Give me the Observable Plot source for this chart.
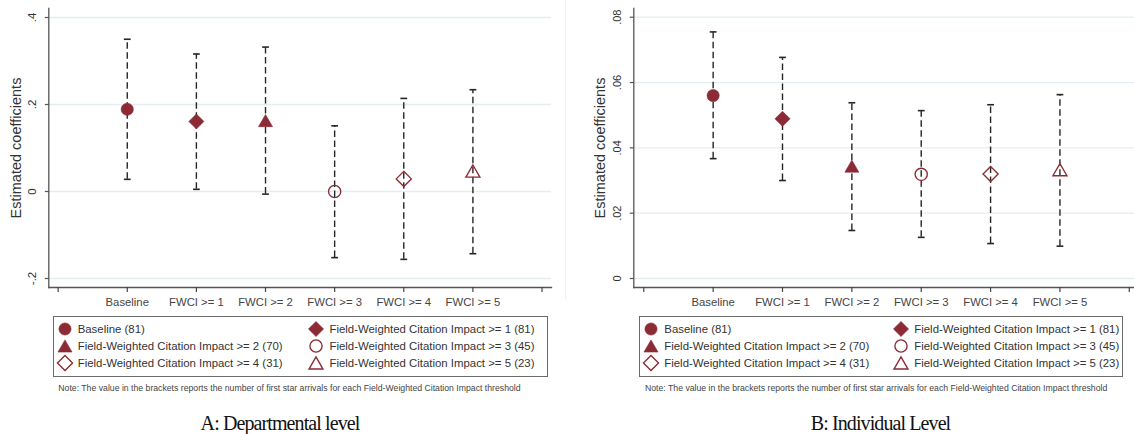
<!DOCTYPE html>
<html>
<head>
<meta charset="utf-8">
<script src="https://cdn.jsdelivr.net/npm/d3@7"></script>
<script src="https://cdn.jsdelivr.net/npm/@observablehq/plot@0.6"></script>
<style>
  body { margin: 0; background: #fff; }
  #wrap { position: relative; width: 1134px; height: 434px; overflow: hidden; font-family: "Liberation Sans", Arial, sans-serif; background: #fff; }
  #wrap svg.plotsvg { position: absolute; top: 0; }
  .lbox { position: absolute; border: 1.3px solid #6a6a6a; box-sizing: border-box; }
  .litem { position: absolute; font-size: 11.4px; color: #333; white-space: nowrap; line-height: 14px; transform: translateY(-50%); }
  .lmark { position: absolute; overflow: visible; }
  .note { position: absolute; font-size: 8.7px; color: #444; white-space: nowrap; line-height: 10px; transform: translateY(-50%); }
  .cap { position: absolute; font-family: "Liberation Serif", "Times New Roman", serif; font-size: 20px; letter-spacing: -0.9px; color: #111; white-space: nowrap; line-height: 24px; transform: translate(-50%, -50%); }
  .sep { position: absolute; left: 565px; top: 0; width: 1px; height: 300px; background: #f1f1f1; }
</style>
</head>
<body>
<div id="wrap"></div>
<script>
// ---------- data ----------
const categories = ["Baseline", "FWCI >= 1", "FWCI >= 2", "FWCI >= 3", "FWCI >= 4", "FWCI >= 5"];
const xTickLabels = ["", "Baseline", "FWCI >= 1", "FWCI >= 2", "FWCI >= 3", "FWCI >= 4", "FWCI >= 5", ""];
const legendLabels = [
  "Baseline (81)",
  "Field-Weighted Citation Impact >= 1 (81)",
  "Field-Weighted Citation Impact >= 2 (70)",
  "Field-Weighted Citation Impact >= 3 (45)",
  "Field-Weighted Citation Impact >= 4 (31)",
  "Field-Weighted Citation Impact >= 5 (23)"
];

// Panel A: Departmental level
const deptEstimate = [0.189, 0.161, 0.163, 0.000, 0.029, 0.047];
const deptLower    = [0.028, 0.005, -0.006, -0.152, -0.156, -0.143];
const deptUpper    = [0.350, 0.316, 0.332, 0.151, 0.214, 0.234];
const deptYTicks   = [-0.2, 0, 0.2, 0.4];
const deptYLabels  = ["-.2", "0", ".2", ".4"];

// Panel B: Individual level
const indivEstimate = [0.0560, 0.0489, 0.0344, 0.0319, 0.0320, 0.0333];
const indivLower    = [0.0367, 0.0300, 0.0147, 0.0126, 0.0107, 0.0099];
const indivUpper    = [0.0755, 0.0677, 0.0538, 0.0514, 0.0532, 0.0563];
const indivYTicks   = [0, 0.02, 0.04, 0.06, 0.08];
const indivYLabels  = ["0", ".02", ".04", ".06", ".08"];

const note = "Note: The value in the brackets reports the number of first star arrivals for each Field-Weighted Citation Impact threshold";
const captions = ["A: Departmental level", "B: Individual Level"];
const yTitle = "Estimated coefficients";

// ---------- styles ----------
const maroon = "#8c2a35";
const shapes = ["circle", "diamond2", "triangle", "circle", "diamond2", "triangle"];
const filled = [true, true, true, false, false, false];
const radius = {circle: 6.1, diamond2: 6.8, triangle: 5.2};
const font = '"Liberation Sans", Arial, sans-serif';

const capSym = { draw(ctx) { ctx.moveTo(-3.4, 0); ctx.lineTo(3.4, 0); } };
const yTickSym = { draw(ctx) { ctx.moveTo(0, 0); ctx.lineTo(-4, 0); } };

function panel(est, lo, hi, yDomain, yTicks, yLabels, o) {
  const rows = categories.map((c, i) => ({i: i + 1, cat: c, est: est[i], lo: lo[i], hi: hi[i], shape: shapes[i], filled: filled[i]}));
  const markerMarks = rows.map(r => Plot.dot([r], {
    x: "i", y: "est", symbol: r.shape, r: radius[r.shape],
    fill: r.filled ? maroon : "none", stroke: maroon,
    strokeWidth: r.filled ? 0.6 : 1.35,
    dy: r.shape === "triangle" ? 2 : 0
  }));
  const svg = Plot.plot({
    width: o.width, height: 312,
    marginLeft: o.mL, marginRight: o.mR, marginTop: 8, marginBottom: 25,
    x: {domain: o.xDomain, axis: null, label: null},
    y: {domain: yDomain, axis: null, label: null},
    style: {fontFamily: font, background: "transparent", overflow: "visible"},
    marks: [
      Plot.gridY(yTicks, {stroke: "#e4eef0", strokeOpacity: 1, strokeWidth: 1.3}),
      Plot.ruleX(rows, {x: "i", y1: "lo", y2: "hi", stroke: "#262626", strokeWidth: 1.4, strokeDasharray: "6.5,3.5"}),
      Plot.dot(rows, {x: "i", y: "hi", symbol: capSym, fill: "none", stroke: "#262626", strokeWidth: 1.6}),
      Plot.dot(rows, {x: "i", y: "lo", symbol: capSym, fill: "none", stroke: "#262626", strokeWidth: 1.6}),
      ...markerMarks,
      Plot.frame({anchor: "left", stroke: "#555", strokeWidth: 1.3}),
      Plot.frame({anchor: "bottom", stroke: "#555", strokeWidth: 1.3}),
      Plot.dot(yTicks, {y: d => d, frameAnchor: "left", symbol: yTickSym, fill: "none", stroke: "#555", strokeWidth: 1.2}),
      Plot.text(yTicks, {y: d => d, text: (d, i) => yLabels[i], frameAnchor: "left", dx: -16.3, rotate: -90, textAnchor: "middle", lineAnchor: "middle", fontSize: o.yFont, fill: "#333"}),
      Plot.text([yTitle], {frameAnchor: "left", dx: o.titleDx, rotate: -90, textAnchor: "middle", lineAnchor: "middle", fontSize: 14.5, fill: "#333"}),
      Plot.axisX({ticks: d3.range(0, 8), label: null, tickSize: 5, tickPadding: 5, tickFormat: i => xTickLabels[i], fontSize: 11.3, color: "#444", strokeWidth: 1.2})
    ]
  });
  svg.classList.add("plotsvg");
  svg.style.left = o.left + "px";
  return svg;
}

const wrap = document.getElementById("wrap");
const sep = document.createElement("div"); sep.className = "sep"; wrap.appendChild(sep);

wrap.appendChild(panel(deptEstimate, deptLower, deptUpper, [-0.22069, 0.42069], deptYTicks, deptYLabels,
  {width: 566, mL: 48.3, mR: 15, xDomain: [-0.135, 7.137], left: 0, yFont: 11.4, titleDx: -32}));
wrap.appendChild(panel(indivEstimate, indivLower, indivUpper, [-0.002756, 0.08267], indivYTicks, indivYLabels,
  {width: 568, mL: 67.3, mR: 0, xDomain: [-0.144, 7.075], left: 566, yFont: 11, titleDx: -33.3}));

// ---------- legends ----------
function symbolPath(shape, r) {
  const t = {circle: d3.symbolCircle, diamond2: d3.symbolDiamond2, triangle: d3.symbolTriangle}[shape];
  return d3.symbol().type(t).size(Math.PI * r * r)();
}
function legend(cfg) {
  const box = document.createElement("div");
  box.className = "lbox";
  Object.assign(box.style, {left: cfg.left + "px", top: cfg.top + "px", width: cfg.width + "px", height: cfg.height + "px"});
  wrap.appendChild(box);
  legendLabels.forEach((lab, k) => {
    const row = Math.floor(k / 2), col = k % 2;
    const cy = cfg.rows[row];
    const mx = cfg.markX[col];
    const ns = "http://www.w3.org/2000/svg";
    const s = document.createElementNS(ns, "svg");
    s.setAttribute("class", "lmark");
    s.setAttribute("width", 20); s.setAttribute("height", 20);
    s.style.left = (mx - 10) + "px"; s.style.top = (cy - 10) + "px";
    const p = document.createElementNS(ns, "path");
    const shp = shapes[k];
    p.setAttribute("d", symbolPath(shp, radius[shp]));
    p.setAttribute("transform", `translate(10,${10 + (shp === "triangle" ? 2 : 0)})`);
    p.setAttribute("fill", filled[k] ? maroon : "none");
    p.setAttribute("stroke", maroon);
    p.setAttribute("stroke-width", filled[k] ? 0.6 : 1.35);
    s.appendChild(p);
    wrap.appendChild(s);
    const t = document.createElement("div");
    t.className = "litem";
    t.textContent = lab;
    t.style.left = cfg.textX[col] + "px";
    t.style.top = cy + "px";
    wrap.appendChild(t);
  });
  const n = document.createElement("div");
  n.className = "note"; n.textContent = note;
  n.style.left = cfg.noteX + "px"; n.style.top = "387.7px";
  wrap.appendChild(n);
  const c = document.createElement("div");
  c.className = "cap"; c.textContent = cfg.caption;
  c.style.left = cfg.capX + "px"; c.style.top = "423px";
  wrap.appendChild(c);
}
legend({left: 53.3, top: 316, width: 495.2, height: 60.7, rows: [329, 345.7, 362.7], markX: [65, 316], textX: [77.7, 329.5], noteX: 58.3, capX: 280, caption: captions[0]});
legend({left: 639, top: 316, width: 483.7, height: 61, rows: [329, 345.7, 362.7], markX: [650.7, 901], textX: [664.3, 914.3], noteX: 645, capX: 880.5, caption: captions[1]});
</script>
</body>
</html>
